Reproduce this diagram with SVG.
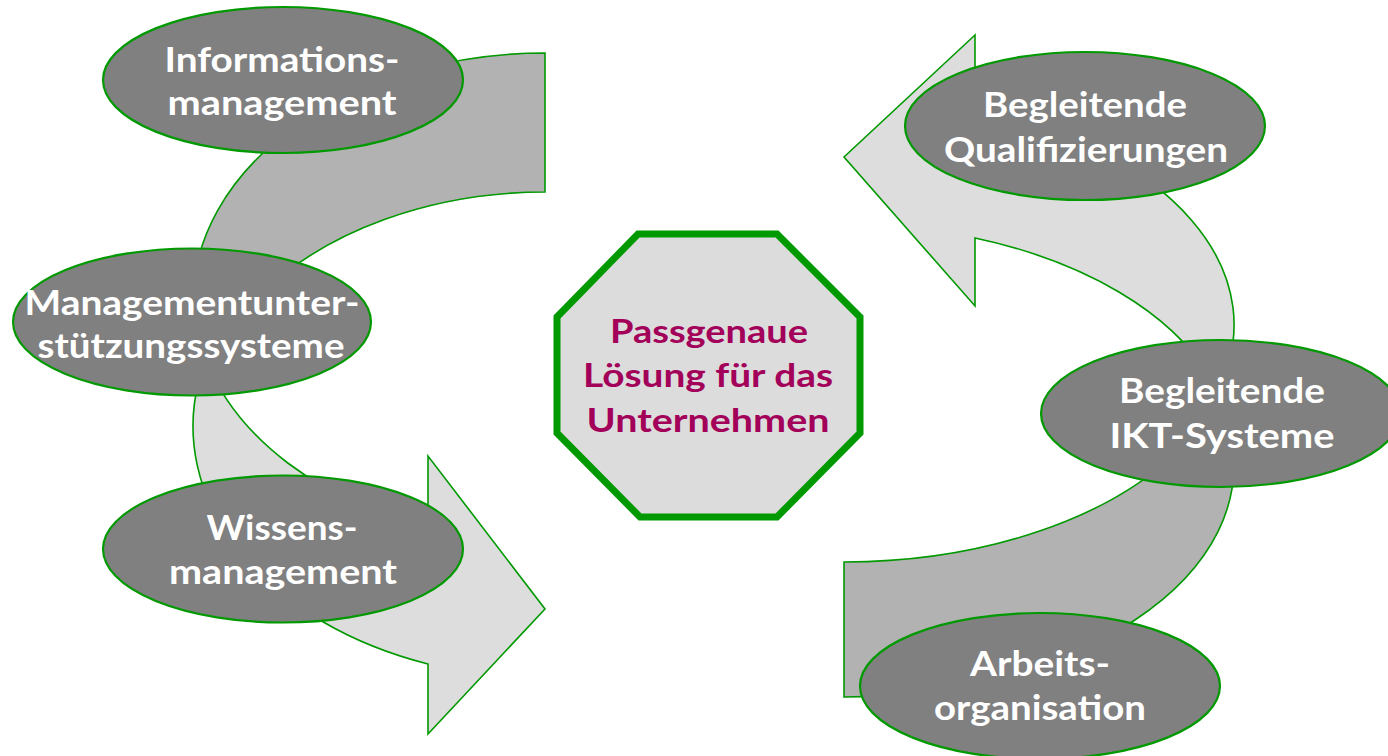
<svg xmlns="http://www.w3.org/2000/svg" width="1388" height="756" viewBox="0 0 1388 756">
<style>
.dark{fill:#b2b2b2;stroke:#009900;stroke-width:1.6;stroke-linejoin:miter}
.light{fill:#dddddd;stroke:#009900;stroke-width:1.6;stroke-linejoin:miter}
.node ellipse{fill:#808080;stroke:#009900;stroke-width:2.2}
.node text{font-family:"Lato","Open Sans","Liberation Sans",sans-serif;font-weight:bold;font-size:35px;fill:#ffffff;text-anchor:middle}
.center text{font-family:"Lato","Open Sans","Liberation Sans",sans-serif;font-weight:bold;font-size:33px;fill:#a3005a;text-anchor:middle}
</style>
<rect width="1388" height="756" fill="#ffffff"/>
<g id="connectors">
  <g id="arrow-left">
    <path class="dark" d="M545 53 A352 249 0 0 0 193 302 L200 330 L260 295 A352 249 0 0 1 545 192 Z"/>
    <path class="light" d="M206 360 L199 380 A352 252 0 0 0 428 664 L428 734 L545 609 L428 456 L428 528 A352 250 0 0 1 206 360 Z"/>
  </g>
  <g id="arrow-right">
    <path class="dark" d="M844 562 A390 230 0 0 0 1180 449 L1231 440 A390 230 0 0 1 844 697 Z"/>
    <path class="light" d="M975 108 L975 35 L844 157 L975 306 L975 238 A390 230 0 0 1 1210 377 L1218 390 A390 230 0 0 0 975 108 Z"/>
  </g>
</g>
<g id="center" class="center">
  <polygon points="638,234 777,234 860,317 860,433 777,517 640,517 557,433 557,317" fill="#dcdcdc" stroke="#009900" stroke-width="7"/>
  <text x="709" y="343" textLength="198" lengthAdjust="spacingAndGlyphs">Passgenaue</text>
  <text x="708" y="387" textLength="250" lengthAdjust="spacingAndGlyphs">Lösung für das</text>
  <text x="708" y="432" textLength="243" lengthAdjust="spacingAndGlyphs">Unternehmen</text>
</g>
<g id="node-informationsmanagement" class="node">
  <ellipse cx="283" cy="80" rx="180" ry="73"/>
  <text x="282" y="72" textLength="235" lengthAdjust="spacingAndGlyphs">Informations-</text>
  <text x="282" y="115" textLength="229" lengthAdjust="spacingAndGlyphs">management</text>
</g>
<g id="node-managementunterstuetzung" class="node">
  <ellipse cx="192" cy="322" rx="179" ry="73.5"/>
  <text x="192" y="315" textLength="335" lengthAdjust="spacingAndGlyphs">Managementunter-</text>
  <text x="191" y="358" textLength="307" lengthAdjust="spacingAndGlyphs">stützungssysteme</text>
</g>
<g id="node-wissensmanagement" class="node">
  <ellipse cx="283" cy="549" rx="180" ry="73.5"/>
  <text x="282" y="540" textLength="151" lengthAdjust="spacingAndGlyphs">Wissens-</text>
  <text x="283" y="584" textLength="228" lengthAdjust="spacingAndGlyphs">management</text>
</g>
<g id="node-qualifizierungen" class="node">
  <ellipse cx="1085" cy="126" rx="180" ry="74"/>
  <text x="1085" y="117" textLength="204" lengthAdjust="spacingAndGlyphs">Begleitende</text>
  <text x="1086" y="162" textLength="284" lengthAdjust="spacingAndGlyphs">Qualifizierungen</text>
</g>
<g id="node-ikt-systeme" class="node">
  <ellipse cx="1221" cy="413.5" rx="180" ry="73.5"/>
  <text x="1222" y="403" textLength="206" lengthAdjust="spacingAndGlyphs">Begleitende</text>
  <text x="1222" y="448" textLength="225" lengthAdjust="spacingAndGlyphs">IKT-Systeme</text>
</g>
<g id="node-arbeitsorganisation" class="node">
  <ellipse cx="1040" cy="686" rx="180" ry="73"/>
  <text x="1040" y="676" textLength="140" lengthAdjust="spacingAndGlyphs">Arbeits-</text>
  <text x="1040" y="720" textLength="212" lengthAdjust="spacingAndGlyphs">organisation</text>
</g>
</svg>
